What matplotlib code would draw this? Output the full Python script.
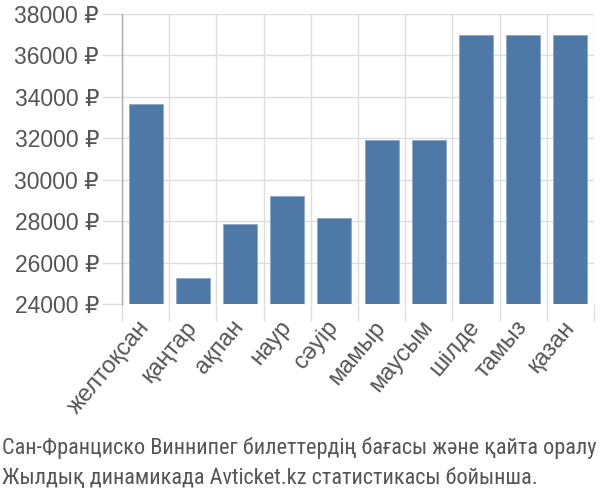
import numpy as np
import matplotlib.pyplot as plt
from matplotlib.ticker import FixedLocator

months = ['желтоқсан', 'қаңтар', 'ақпан', 'наур', 'сәуір', 'мамыр',
          'маусым', 'шілде', 'тамыз', 'қазан']
prices = [33650, 25250, 27850, 29200, 28130, 31930, 31930, 36970, 36970, 36970]
yticks = [24000, 26000, 28000, 30000, 32000, 34000, 36000, 38000]
caption1 = 'Сан-Франциско Виннипег билеттердің бағасы және қайта оралу'
caption2 = 'Жылдық динамикада Avticket.kz статистикасы бойынша.'

plt.rcParams['font.family'] = ['Liberation Sans', 'DejaVu Sans']
txt = '#555555'
grid = '#dddddd'

fig = plt.figure(figsize=(6, 5), dpi=100)
ax = fig.add_axes([0.2033, 0.392, 0.7867, 0.58])

x = np.arange(len(months))
ax.bar(x, prices, width=0.72, color='#4e79a7', edgecolor='#8fa9c8',
       linewidth=0.6, zorder=3)

ax.set_ylim(24000, 38000)
ax.set_xlim(-0.5, len(months) - 0.5)
ax.set_yticks(yticks)
ax.set_yticklabels([f'{v} ₽' for v in yticks])
ax.set_xticks(x)
ax.set_xticklabels(months, rotation=50, ha='right', va='center',
                   rotation_mode='anchor')
ax.xaxis.set_minor_locator(FixedLocator(np.arange(-0.5, len(months), 1.0)))

ax.tick_params(axis='y', length=14.5, color=grid, width=1, labelsize=16.5,
               labelcolor=txt, pad=2)
ax.tick_params(axis='x', which='major', length=0, labelsize=17,
               labelcolor=txt, pad=14)
ax.tick_params(axis='x', which='minor', length=12, color=grid, width=1)

ax.grid(axis='y', color=grid, linewidth=1, zorder=0)
ax.grid(axis='x', which='minor', color=grid, linewidth=1, zorder=0)
for s in ['top', 'right', 'bottom']:
    ax.spines[s].set_visible(False)
ax.spines['left'].set_color('#aaaaaa')
ax.spines['left'].set_linewidth(1)

cap_font = ['Roboto Condensed', 'Arimo', 'DejaVu Sans']
fig.text(0.003, 1 - 454 / 500, caption1, fontsize=16, color=txt,
         ha='left', va='baseline', family=cap_font)
fig.text(0.003, 1 - 484 / 500, caption2, fontsize=16, color=txt,
         ha='left', va='baseline', family=cap_font)

fig.savefig('out.png', dpi=100)
